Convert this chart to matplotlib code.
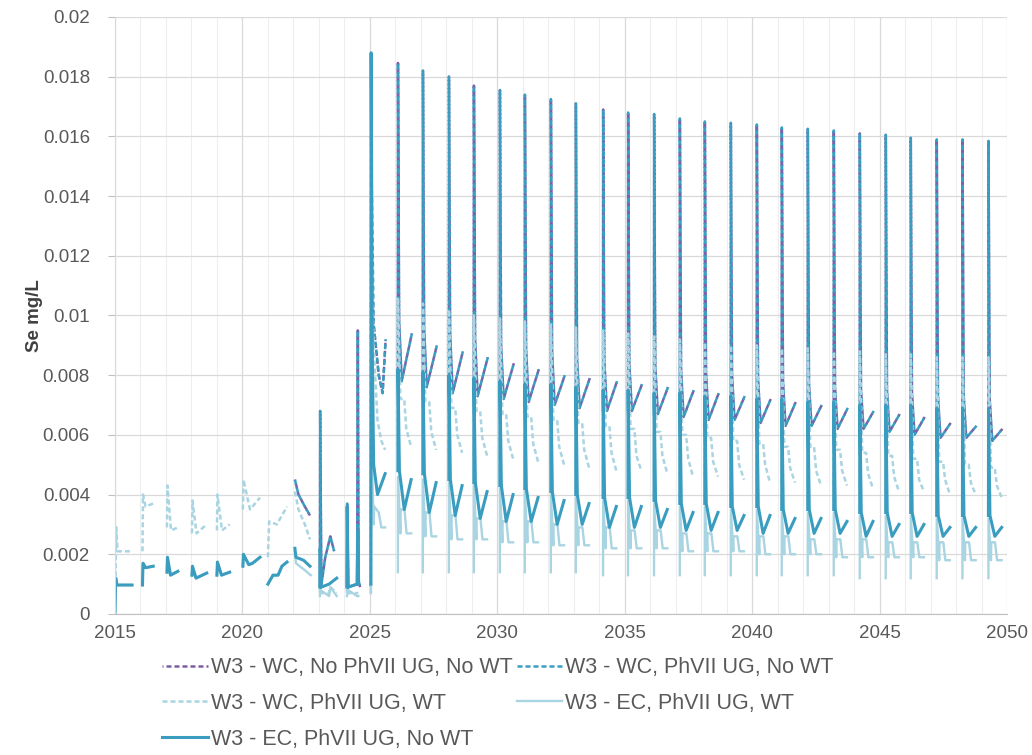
import numpy as np
import matplotlib.pyplot as plt
from matplotlib.ticker import MultipleLocator, FuncFormatter

nan = np.nan

# ---- 2015-2021: scenarios are identical before the WT / PhVII changes ----
wc_early_t = [2015.02, 2015.05, 2015.10, 2015.67, nan,
              2016.08, 2016.10, 2016.20, 2016.50, nan,
              2017.04, 2017.06, 2017.20, 2017.47, nan,
              2018.02, 2018.04, 2018.20, 2018.60, nan,
              2019.00, 2019.02, 2019.20, 2019.50, nan,
              2020.02, 2020.04, 2020.30, 2020.69, nan,
              2021.00, 2021.05, 2021.35, 2021.75]
wc_early_v = [0.0010, 0.0029, 0.0021, 0.0021, nan,
              0.0021, 0.0040, 0.0036, 0.0037, nan,
              0.0029, 0.0043, 0.0028, 0.0029, nan,
              0.0027, 0.0038, 0.0027, 0.0030, nan,
              0.0028, 0.0040, 0.0028, 0.0030, nan,
              0.0035, 0.0045, 0.0035, 0.0039, nan,
              0.0019, 0.0031, 0.0030, 0.0036]

ec_early_t = [2015.00, 2015.03, 2015.08, 2015.67, nan,
              2016.08, 2016.10, 2016.20, 2016.50, nan,
              2017.04, 2017.06, 2017.18, 2017.47, nan,
              2018.02, 2018.04, 2018.18, 2018.60, nan,
              2019.00, 2019.02, 2019.18, 2019.50, nan,
              2020.02, 2020.04, 2020.25, 2020.40, 2020.69, nan,
              2021.00, 2021.20, 2021.40, 2021.55, 2021.75]
ec_early_v = [0.0000, 0.0012, 0.00097, 0.00097, nan,
              0.00097, 0.0017, 0.00155, 0.0016, nan,
              0.0014, 0.0019, 0.0013, 0.00143, nan,
              0.0013, 0.0016, 0.0012, 0.00137, nan,
              0.0013, 0.00174, 0.0013, 0.0014, nan,
              0.0016, 0.0020, 0.00165, 0.0017, 0.0019, nan,
              0.0010, 0.0013, 0.0013, 0.0016, 0.00174]

# ---- 2022-2025 per scenario ----
wc_noug_mid_t = [2022.06, 2022.20, 2022.45, 2022.65, nan,
                 2023.04, 2023.05, 2023.10, 2023.25, 2023.45, 2023.60, nan,
                 2024.10, 2024.11, 2024.15, 2024.50, 2024.53, 2024.56, 2024.62, nan,
                 2025.05, 2025.06, 2025.15, 2025.35, 2025.50, 2025.62]
wc_noug_mid_v = [0.0045, 0.0040, 0.0036, 0.0033, nan,
                 0.0009, 0.0068, 0.0010, 0.0019, 0.0026, 0.0021, nan,
                 0.0009, 0.0037, 0.0009, 0.0010, 0.0095, 0.0011, 0.0009, nan,
                 0.0030, 0.0120, 0.0097, 0.0080, 0.0074, 0.0092]

wc_ug_mid_t = [2022.06, 2022.20, 2022.45, 2022.65, nan,
               2023.04, 2023.05, 2023.10, 2023.25, 2023.45, 2023.60, nan,
               2024.10, 2024.11, 2024.15, 2024.50, 2024.53, 2024.56, 2024.62, nan,
               2025.04, 2025.05, 2025.15, 2025.35, 2025.50, 2025.62]
wc_ug_mid_v = [0.0045, 0.0040, 0.0036, 0.0033, nan,
               0.0009, 0.0068, 0.0010, 0.0019, 0.0026, 0.0021, nan,
               0.0009, 0.0037, 0.0009, 0.0010, 0.0095, 0.0011, 0.0009, nan,
               0.0009, 0.0160, 0.0097, 0.0080, 0.0074, 0.0092]

wc_wt_mid_t = [2022.06, 2022.20, 2022.45, 2022.65, nan,
               2023.04, 2023.05, 2023.08, 2023.40, 2023.45, 2023.70, nan,
               2024.10, 2024.12, 2024.15, 2024.50, 2024.55, nan,
               2025.04, 2025.06, 2025.15, 2025.30, 2025.45, 2025.60]
wc_wt_mid_v = [0.0041, 0.0035, 0.0030, 0.0025, nan,
               0.0007, 0.0022, 0.0007, 0.0007, 0.0009, 0.0007, nan,
               0.0007, 0.0030, 0.0007, 0.0007, 0.0007, nan,
               0.0007, 0.0125, 0.0090, 0.0065, 0.0058, 0.0055]

ec_wt_mid_t = [2022.06, 2022.10, 2022.40, 2022.68, nan,
               2023.04, 2023.06, 2023.40, 2023.45, 2023.70, nan,
               2024.10, 2024.15, 2024.50, 2024.55, nan,
               2025.04, 2025.05, 2025.15, 2025.17, 2025.35, 2025.45, 2025.60]
ec_wt_mid_v = [0.0021, 0.0017, 0.0015, 0.0013, nan,
               0.0006, 0.0008, 0.0006, 0.0009, 0.0006, nan,
               0.0006, 0.0008, 0.0006, 0.0006, nan,
               0.0007, 0.0060, 0.0030, 0.0036, 0.0034, 0.0029, 0.0029]

ec_ug_mid_t = [2022.06, 2022.10, 2022.40, 2022.65, nan,
               2023.04, 2023.05, 2023.09, 2023.40, 2023.70, nan,
               2024.10, 2024.11, 2024.15, 2024.50, 2024.53, 2024.56, nan,
               2025.04, 2025.05, 2025.10, 2025.15, 2025.30, 2025.60]
ec_ug_mid_v = [0.0022, 0.0019, 0.0018, 0.0016, nan,
               0.0009, 0.0022, 0.0009, 0.0010, 0.0012, nan,
               0.0009, 0.0036, 0.0009, 0.0010, 0.0028, 0.0010, nan,
               0.0010, 0.0188, 0.0085, 0.0050, 0.0040, 0.0047]

# ---- 2026-2049: one release event per year ----
spike_t = [2026.10, 2027.08, 2028.10, 2029.08, 2030.10, 2031.08, 2032.10, 2033.08,
           2034.15, 2035.13, 2036.15, 2037.16, 2038.14, 2039.16, 2040.18, 2041.16,
           2042.18, 2043.20, 2044.22, 2045.24, 2046.22, 2047.24, 2048.25, 2049.27]

wc_peak = [0.01846, 0.0182, 0.0180, 0.0177, 0.01755, 0.0174, 0.01725, 0.0171,
           0.0169, 0.0168, 0.01675, 0.0166, 0.0165, 0.01645, 0.0164, 0.0163,
           0.01625, 0.0162, 0.0161, 0.01605, 0.01595, 0.0159, 0.0159, 0.01585]
wc_knee = [0.0098, 0.0096, 0.0094, 0.0092, 0.0090, 0.0089, 0.0088, 0.0086,
           0.0085, 0.0084, 0.0083, 0.0082, 0.0081, 0.0080, 0.0079, 0.0078,
           0.0077, 0.0076, 0.0075, 0.0075, 0.0074, 0.0073, 0.0073, 0.0072]
wc_low = [0.0078, 0.0076, 0.0074, 0.0073, 0.0072, 0.0071, 0.0070, 0.0069,
          0.0068, 0.0068, 0.0067, 0.0066, 0.0065, 0.0065, 0.0064, 0.0063,
          0.0063, 0.0062, 0.0062, 0.0061, 0.0060, 0.0059, 0.0059, 0.0058]
wc_end = [0.0094, 0.0090, 0.0088, 0.0086, 0.0084, 0.0082, 0.0080, 0.0079,
          0.0078, 0.0077, 0.0076, 0.0075, 0.0074, 0.0073, 0.0072, 0.0071,
          0.0070, 0.0069, 0.0068, 0.0067, 0.0066, 0.0064, 0.0063, 0.0062]

wt_peak = [0.0106, 0.0104, 0.0102, 0.0100, 0.0099, 0.0098, 0.0097, 0.0096,
           0.0095, 0.0094, 0.0093, 0.0092, 0.0091, 0.0090, 0.0090, 0.0089,
           0.0089, 0.0088, 0.0088, 0.0087, 0.0087, 0.0086, 0.0086, 0.0086]
wt_hi = [0.0072, 0.0071, 0.0069, 0.0068, 0.0067, 0.0066, 0.0065, 0.0064,
         0.0063, 0.0062, 0.0061, 0.0060, 0.0059, 0.0058, 0.0057, 0.0056,
         0.0056, 0.0055, 0.0054, 0.0053, 0.0052, 0.0051, 0.0050, 0.0049]
wt_mid = [0.0062, 0.0061, 0.0060, 0.0059, 0.0058, 0.0057, 0.0056, 0.0055,
          0.0054, 0.0053, 0.0053, 0.0052, 0.0051, 0.0050, 0.0050, 0.0049,
          0.0048, 0.0048, 0.0047, 0.0046, 0.0045, 0.0045, 0.0044, 0.0043]
wt_low = [0.0056, 0.0055, 0.0054, 0.0053, 0.0052, 0.0051, 0.0050, 0.0049,
          0.0048, 0.0048, 0.0047, 0.0046, 0.0046, 0.0045, 0.0044, 0.0044,
          0.0043, 0.0043, 0.0042, 0.0041, 0.0041, 0.0040, 0.0040, 0.0039]

ec_peak = [0.0082, 0.0081, 0.0080, 0.0079, 0.0078, 0.0077, 0.0077, 0.0076,
           0.0075, 0.0075, 0.0074, 0.0074, 0.0073, 0.0073, 0.0072, 0.0072,
           0.0071, 0.0071, 0.0070, 0.0070, 0.0070, 0.0069, 0.0069, 0.0069]
ec_knee = [0.0048, 0.0047, 0.0045, 0.0044, 0.0043, 0.0042, 0.0041, 0.0040,
           0.0039, 0.0039, 0.0038, 0.0037, 0.0037, 0.0036, 0.0036, 0.0035,
           0.0035, 0.0035, 0.0034, 0.0034, 0.0034, 0.0033, 0.0033, 0.0033]
ec_low = [0.0035, 0.0034, 0.0033, 0.0032, 0.0031, 0.0031, 0.0030, 0.0030,
          0.0029, 0.0029, 0.0029, 0.0028, 0.0028, 0.0028, 0.0027, 0.0027,
          0.0027, 0.0027, 0.0026, 0.0026, 0.0026, 0.0026, 0.0026, 0.0026]
ec_end = [0.0045, 0.0044, 0.0043, 0.0041, 0.0040, 0.0039, 0.0038, 0.0037,
          0.0036, 0.0036, 0.0035, 0.0034, 0.0034, 0.0033, 0.0033, 0.0032,
          0.0032, 0.0031, 0.0031, 0.0030, 0.0030, 0.0029, 0.0029, 0.0029]

ecwt_base = [0.0014, 0.0014, 0.0014, 0.0014, 0.0014, 0.0014, 0.0014, 0.0014,
             0.0013, 0.0013, 0.0013, 0.0013, 0.0013, 0.0013, 0.0013, 0.0013,
             0.0013, 0.0013, 0.0012, 0.0012, 0.0012, 0.0012, 0.0012, 0.0012]
ecwt_peak = [0.0046, 0.0045, 0.0044, 0.0043, 0.0042, 0.0041, 0.0040, 0.0039,
             0.0038, 0.0038, 0.0037, 0.0036, 0.0036, 0.0035, 0.0035, 0.0034,
             0.0034, 0.0034, 0.0033, 0.0033, 0.0033, 0.0032, 0.0032, 0.0032]
ecwt_hi = [0.0035, 0.0034, 0.0033, 0.0032, 0.0031, 0.0031, 0.0030, 0.0029,
           0.0029, 0.0028, 0.0028, 0.0027, 0.0027, 0.0026, 0.0026, 0.0026,
           0.0025, 0.0025, 0.0025, 0.0024, 0.0024, 0.0024, 0.0024, 0.0024]
ecwt_drop = [0.0027, 0.0026, 0.0025, 0.0025, 0.0024, 0.0024, 0.0023, 0.0023,
             0.0022, 0.0022, 0.0022, 0.0021, 0.0021, 0.0021, 0.0020, 0.0020,
             0.0020, 0.0019, 0.0019, 0.0019, 0.0019, 0.0018, 0.0018, 0.0018]

labels = ['W3 - WC, No PhVII UG, No WT', 'W3 - WC, PhVII UG, No WT',
          'W3 - WC, PhVII UG, WT', 'W3 - EC, PhVII UG, WT',
          'W3 - EC, PhVII UG, No WT']

PURPLE = '#7D5FA8'
TEAL = '#3A9DC0'
LIGHT = '#A9D4E1'


def build(early_t, early_v, mid_t, mid_v, profile):
    """Join the early and transition segments with the yearly events after 2025.
    profile: list of (time after event, per-year value list)."""
    xs = list(early_t) + [nan] + list(mid_t)
    ys = list(early_v) + [nan] + list(mid_v)
    for i, s in enumerate(spike_t):
        xs.append(nan)
        ys.append(nan)
        for dt, vals in profile:
            xs.append(s + dt)
            ys.append(vals[i])
    return np.array(xs), np.array(ys)


wc_profile = [(0.0, wc_low), (0.004, wc_peak), (0.05, wc_knee),
              (0.15, wc_low), (0.55, wc_end)]
wt_profile = [(0.0, wt_low), (0.004, wt_peak), (0.10, wt_hi), (0.25, wt_hi),
              (0.33, wt_mid), (0.52, wt_low)]
ecwt_profile = [(0.0, ecwt_base), (0.004, ecwt_peak), (0.10, ecwt_drop),
                (0.11, ecwt_hi), (0.26, ecwt_hi), (0.34, ecwt_drop), (0.52, ecwt_drop)]
ec_profile = [(0.0, ec_knee), (0.004, ec_peak), (0.06, ec_knee),
              (0.25, ec_low), (0.52, ec_end)]

# the two no-WT WC runs sit under the WT run before 2022, so start them there
s1 = build([], [], wc_noug_mid_t, wc_noug_mid_v, wc_profile)
s2 = build([], [], wc_ug_mid_t, wc_ug_mid_v, wc_profile)
s3 = build(wc_early_t, wc_early_v, wc_wt_mid_t, wc_wt_mid_v, wt_profile)
s4 = build(ec_early_t, ec_early_v, ec_wt_mid_t, ec_wt_mid_v, ecwt_profile)
s5 = build(ec_early_t, ec_early_v, ec_ug_mid_t, ec_ug_mid_v, ec_profile)

plt.rcParams['font.family'] = ['Liberation Sans', 'DejaVu Sans']

fig = plt.figure(figsize=(10.32, 7.55), dpi=100)
ax = fig.add_axes([0.1114, 0.1868, 0.8644, 0.7907])

l1, = ax.plot(*s1, color=PURPLE, lw=1.8, ls=(1.6, (2.0, 1.2)), label=labels[0])
l2, = ax.plot(*s2, color=TEAL, lw=1.8, ls=(0, (2.0, 1.2)), label=labels[1])
l3, = ax.plot(*s3, color=LIGHT, lw=1.8, ls=(0, (2.0, 1.2)), label=labels[2])
l4, = ax.plot(*s4, color=LIGHT, lw=1.7, label=labels[3])
l5, = ax.plot(*s5, color=TEAL, lw=2.2, label=labels[4])

ax.set_xlim(2015, 2050)
ax.set_ylim(0, 0.02)
ax.xaxis.set_major_locator(MultipleLocator(5))
ax.xaxis.set_minor_locator(MultipleLocator(1))
ax.yaxis.set_major_locator(MultipleLocator(0.002))
ax.yaxis.set_major_formatter(FuncFormatter(lambda v, p: f'{v:g}'))
ax.xaxis.set_major_formatter(FuncFormatter(lambda v, p: f'{int(round(v))}'))

ax.grid(which='major', color='#d9d9d9', lw=0.9)
ax.grid(which='minor', axis='x', color='#eeeeee', lw=0.8)
ax.set_axisbelow(True)

for side in ['top', 'right']:
    ax.spines[side].set_visible(False)
ax.spines['left'].set_color('#d9d9d9')
ax.spines['bottom'].set_color('#bfbfbf')

ax.tick_params(axis='y', which='major', length=5, color='#bfbfbf',
               labelsize=13.5, labelcolor='#595959', pad=13)
ax.tick_params(axis='x', which='both', length=0, labelsize=13.5,
               labelcolor='#595959', pad=8)

ax.set_ylabel('Se mg/L', fontsize=13.5, fontweight='bold', color='#404040', labelpad=0)

fig.legend([l1, l3, l5, l2, l4], [labels[0], labels[2], labels[4], labels[1], labels[3]],
           ncol=2, loc='upper left', bbox_to_anchor=(0.147, 0.144),
           frameon=False, fontsize=15.5, labelcolor='#595959',
           handlelength=2.1, handletextpad=0.15, columnspacing=0.2,
           labelspacing=0.69, borderpad=0)

fig.savefig('out.png', dpi=100)
